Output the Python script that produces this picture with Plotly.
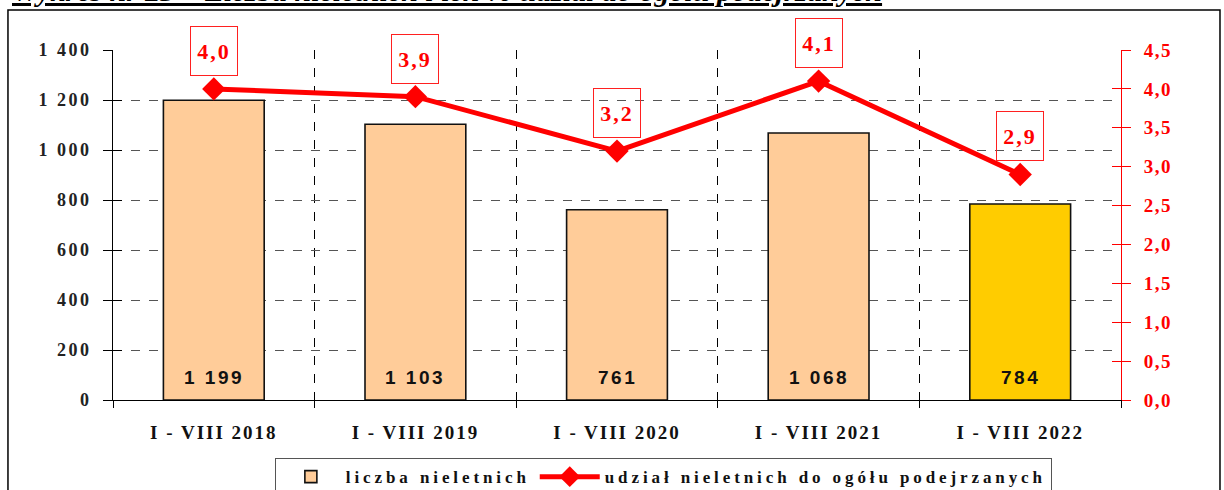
import plotly.graph_objects as go

categories = ["I - VIII 2018", "I - VIII 2019", "I - VIII 2020", "I - VIII 2021", "I - VIII 2022"]
counts = [1199, 1103, 761, 1068, 784]
shares = [4.0, 3.9, 3.2, 4.1, 2.9]
bar_colors = ["#FFCC99", "#FFCC99", "#FFCC99", "#FFCC99", "#FFCC00"]
series_names = ["liczba nieletnich", "udział nieletnich do ogółu podejrzanych"]
title_text = "Wykres nr 23 – Liczba nieletnich i ich % udział do ogółu podejrzanych"
left_ticks = [0, 200, 400, 600, 800, 1000, 1200, 1400]
right_ticks = [0.0, 0.5, 1.0, 1.5, 2.0, 2.5, 3.0, 3.5, 4.0, 4.5]

SERIF = "Liberation Serif, Times New Roman, serif"
SANS = "Liberation Sans, Arial, sans-serif"

def spaced(t, px):
    return f'<span style="letter-spacing:{px}px">{t}</span>'

fig = go.Figure()
fig.add_trace(go.Bar(
    x=categories, y=counts, name=spaced(series_names[0], 3.9),
    marker=dict(color=bar_colors, line=dict(color="#111", width=1.6)),
    width=0.5, yaxis="y",
))
fig.add_trace(go.Scatter(
    x=categories, y=shares, name=spaced(series_names[1], 3.9),
    mode="lines+markers", yaxis="y2",
    line=dict(color="#FF0000", width=5),
    marker=dict(symbol="diamond", size=18, color="#FF0000"),
))
# helper traces for the inner halves of the crossing ticks
fig.add_trace(go.Scatter(x=[categories[0]], y=[None], yaxis="y3", showlegend=False, hoverinfo="skip"))
fig.add_trace(go.Scatter(x=[categories[0]], y=[None], yaxis="y4", showlegend=False, hoverinfo="skip"))

annotations = []
for c, v in zip(categories, counts):
    annotations.append(dict(
        x=c, y=0, xref="x", yref="y", yanchor="bottom", yshift=10, showarrow=False,
        text=spaced(f"{v:,}".replace(",", " "), 2.5),
        font=dict(family=SANS, size=19, color="#111", weight="bold"),
    ))
for c, p in zip(categories, shares):
    annotations.append(dict(
        x=c, y=p, xref="x", yref="y2", yshift=38, showarrow=False,
        text=spaced(f"{p:.1f}".replace(".", ","), 2),
        width=46, height=48, bordercolor="#FF2020", borderwidth=1, borderpad=0,
        font=dict(family=SERIF, size=22, color="#FF0000", weight="bold"),
    ))
annotations.append(dict(
    x=-0.102, y=1.116, xref="paper", yref="paper", xanchor="left", yanchor="bottom",
    showarrow=False, text=f"<b><i><u>{title_text}</u></i></b>",
    font=dict(family=SERIF, size=30, color="#000"),
))

fig.update_layout(
    width=1224, height=490,
    margin=dict(l=113, r=103, t=50, b=90, autoexpand=False),
    paper_bgcolor="white", plot_bgcolor="white",
    separators=", ",
    bargap=0.5,
    showlegend=True,
    legend=dict(
        orientation="h", x=0.546, xanchor="center", y=-0.166, yanchor="top",
        bordercolor="#555", borderwidth=1, bgcolor="white",
        font=dict(family=SERIF, size=17, color="#111", weight="bold"),
        itemwidth=60, tracegroupgap=0,
    ),
    xaxis=dict(
        type="category", tickson="boundaries",
        showgrid=True, gridcolor="#000", griddash="dash", gridwidth=1,
        ticks="outside", ticklen=7, tickcolor="#000",
        showline=True, linecolor="#000", linewidth=1,
        tickvals=categories, ticktext=[spaced(c, 2) for c in categories],
        tickfont=dict(family=SERIF, size=19, color="#111", weight="bold"),
        ticklabelstandoff=15,
        zeroline=False,
    ),
    yaxis=dict(
        range=[0, 1400],
        tickvals=left_ticks,
        ticktext=[spaced(f"{t:,}".replace(",", " "), 2.5) for t in left_ticks],
        showgrid=True, gridcolor="#555", griddash="dash", gridwidth=1,
        ticks="outside", ticklen=9, tickcolor="#000",
        showline=True, linecolor="#000", linewidth=1, zeroline=False,
        tickfont=dict(family=SERIF, size=18, color="#222", weight="bold"),
        ticklabelstandoff=8,
    ),
    yaxis2=dict(
        overlaying="y", side="right", range=[0, 4.5],
        tickvals=right_ticks,
        ticktext=[spaced(f"{t:.1f}".replace(".", ","), 1.5) for t in right_ticks],
        showgrid=False, zeroline=False,
        ticks="outside", ticklen=9, tickcolor="#FF0000",
        showline=True, linecolor="#FF0000", linewidth=1,
        tickfont=dict(family=SERIF, size=19, color="#FF0000", weight="bold"),
        ticklabelstandoff=9,
    ),
    yaxis3=dict(
        overlaying="y", side="left", range=[0, 1400], tickvals=left_ticks,
        showgrid=False, zeroline=False, showline=False, showticklabels=False,
        ticks="inside", ticklen=9, tickcolor="#000",
    ),
    yaxis4=dict(
        overlaying="y", side="right", range=[0, 4.5], tickvals=right_ticks,
        showgrid=False, zeroline=False, showline=False, showticklabels=False,
        ticks="inside", ticklen=9, tickcolor="#FF0000",
    ),
    annotations=annotations,
    shapes=[dict(
        type="rect", xref="paper", yref="paper",
        x0=-0.1042, x1=1.0982, y0=-0.35, y1=1.1143,
        line=dict(color="#000", width=1.5), layer="below",
    )],
)

fig.write_html(
    "out.html",
    config={"displayModeBar": False},
    post_script="document.body.style.margin='0';document.body.style.overflow='hidden';",
)
